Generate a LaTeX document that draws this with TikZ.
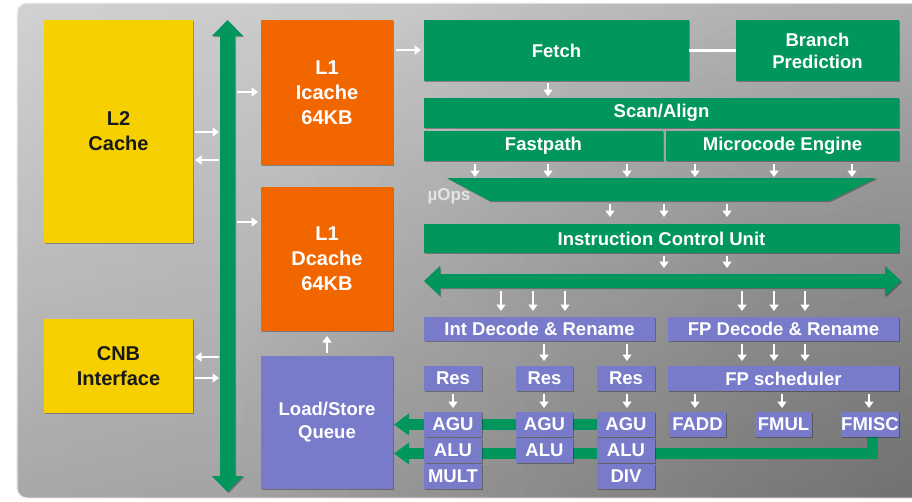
\documentclass[tikz,border=0pt]{standalone}
\usepackage{fontspec}
\setmainfont{Liberation Sans}
\usetikzlibrary{arrows.meta,shadows,calc,fadings}

\definecolor{amdgreen}{RGB}{0,150,92}
\definecolor{amdorange}{RGB}{242,102,0}
\definecolor{amdyellow}{RGB}{246,208,0}
\definecolor{amdpurple}{RGB}{120,122,202}
\definecolor{panelbase}{RGB}{210,210,210}
\definecolor{darktext}{RGB}{25,25,25}
\definecolor{uopstext}{RGB}{228,228,228}

% fadings used to darken the back panel towards the right and the bottom
\tikzfading[name=panelfadex, left color=transparent!100, right color=transparent!0]
\tikzfading[name=panelfadey, top color=transparent!100, bottom color=transparent!0]
\tikzfading[name=panelfader, inner color=transparent!0, outer color=transparent!100]

\pgfdeclarelayer{panel}
\pgfdeclarelayer{bands}
\pgfsetlayers{panel,bands,main}

\tikzset{
  blk/.style={inner sep=0pt, outer sep=0pt, text=white, align=center,
    font=\fontsize{18.5}{22}\selectfont\bfseries,
    drop shadow={shadow xshift=1.2pt, shadow yshift=-1.2pt, opacity=0.3, fill=black}},
  gblk/.style={blk, fill=amdgreen},
  oblk/.style={blk, fill=amdorange, font=\fontsize{20}{25}\selectfont\bfseries},
  yblk/.style={blk, fill=amdyellow, text=darktext, font=\fontsize{20}{25}\selectfont\bfseries},
  pblk/.style={blk, fill=amdpurple},
  warrow/.style={draw=white, line width=2.6pt, -{Triangle[width=9pt,length=6.5pt]}},
  band/.style={draw=amdgreen, line width=11pt, line join=miter,
    -{Triangle[width=21pt,length=15pt]}},
  shaft/.style={inner sep=0pt, outer sep=0pt},
  busfill/.style={fill=amdgreen,
    drop shadow={shadow xshift=1.2pt, shadow yshift=-1.2pt, opacity=0.3, fill=black}},
  panelpath/.style={rounded corners=10pt},
}

% block from its top-left to its bottom-right corner (y grows downwards)
\newcommand\blkat[7]{\node[#2, minimum width=#5-#3, minimum height=#6-#4,
  anchor=north west] (#1) at (#3,#4) {#7};}
% short white arrow going down at abscissa #4, from #2 to #3
\newcommand\vdn[4][]{\draw[warrow,#1] (#4,0 |- #2) -- (#4,0 |- #3);}
% short white arrow at ordinate #4, from #2 to #3
\newcommand\hrz[4][]{\draw[warrow,#1] (#2 |- 0,#4) -- (#3 |- 0,#4);}

\begin{document}
\begin{tikzpicture}[x=1pt,y=-1pt]
\useasboundingbox (0,0) rectangle (912,501);

% grey back panel
\begin{pgfonlayer}{panel}
  \fill[panelpath, panelbase] (17,3) rectangle (925,498);
  \fill[panelpath, black, path fading=panelfadex, fill opacity=0.10] (17,3) rectangle (925,498);
  \fill[panelpath, black, path fading=panelfadey, fill opacity=0.20] (17,3) rectangle (925,498);
  \begin{scope}
    \clip[panelpath] (17,3) rectangle (925,498);
    \fill[black, path fading=panelfader, fill opacity=0.25] (925,498) circle (700);
  \end{scope}
  \draw[panelpath, white!88!gray, line width=1pt] (17,3) rectangle (925,498);
\end{pgfonlayer}

% caches and interfaces
\blkat{l2}{yblk}{44}{20}{193}{243}{L2\\Cache}
\blkat{cnb}{yblk}{44}{319}{193}{413}{CNB\\Interface}
\blkat{icache}{oblk}{261}{20}{393}{165}{L1\\Icache\\64KB}
\blkat{dcache}{oblk}{261}{187}{393}{331}{L1\\Dcache\\64KB}
\blkat{lsq}{pblk, font=\fontsize{18.5}{23}\selectfont\bfseries}{261}{356}{393}{489}{Load/Store\\Queue}

% front end
\blkat{fetch}{gblk}{424}{20}{689}{81}{Fetch}
\blkat{bp}{gblk}{736}{20}{899}{81}{Branch\\Prediction}
\blkat{scan}{gblk}{424}{98}{899}{128}{Scan/Align}
\blkat{fast}{gblk}{424}{131}{663}{161}{Fastpath}
\blkat{micro}{gblk}{666}{131}{899}{161}{Microcode Engine}
\blkat{icu}{gblk}{424}{224}{899}{253}{Instruction Control Unit}

% micro-op funnel
\node[shaft, minimum width=429, minimum height=23, anchor=north west] (uops) at (447,178) {};
\fill[busfill] (uops.north west) -- (uops.north east)
  -- ($(uops.south east)+(-47,0)$) -- ($(uops.south west)+(43,0)$) -- cycle;
\node[font=\fontsize{17}{20}\selectfont\bfseries, text=uopstext] (uopslbl) at (449,196) {µOps};

% system bus (vertical) and dispatch bus (horizontal)
\node[shaft, minimum width=15, minimum height=440, anchor=north west] (vbus) at (220,36) {};
\fill[busfill] (227.5,20) -- (243,36) -- (235,36) -- (235,476) -- (243,476)
  -- (227.5,492) -- (212,476) -- (220,476) -- (220,36) -- (212,36) -- cycle;
\node[shaft, minimum width=445, minimum height=14, anchor=north west] (hbus) at (440,274) {};
\fill[busfill] (424,281) -- (440,266) -- (440,274) -- (885,274) -- (885,266)
  -- (901,281) -- (885,296) -- (885,288) -- (440,288) -- (440,296) -- cycle;

% execution back end
\blkat{intdec}{pblk}{424}{317}{655}{341}{Int Decode \& Rename}
\blkat{fpdec}{pblk}{668}{317}{899}{341}{FP Decode \& Rename}
\blkat{resA}{pblk}{424}{366}{482}{391}{Res}
\blkat{resB}{pblk}{516}{366}{573}{391}{Res}
\blkat{resC}{pblk}{597}{366}{655}{391}{Res}
\blkat{fpsch}{pblk}{668}{366}{899}{391}{FP scheduler}
\blkat{aguA}{pblk}{424}{412}{482}{437}{AGU}
\blkat{aluA}{pblk}{424}{438}{482}{463}{ALU}
\blkat{mult}{pblk}{424}{464}{482}{489}{MULT}
\blkat{aguB}{pblk}{516}{412}{573}{437}{AGU}
\blkat{aluB}{pblk}{516}{438}{573}{463}{ALU}
\blkat{aguC}{pblk}{597}{412}{655}{437}{AGU}
\blkat{aluC}{pblk}{597}{438}{655}{463}{ALU}
\blkat{div}{pblk}{597}{464}{655}{489}{DIV}
\blkat{fadd}{pblk}{669}{412}{726}{437}{FADD}
\blkat{fmul}{pblk}{755}{412}{812}{437}{FMUL}
\blkat{fmisc}{pblk}{841}{412}{899}{437}{FMISC}

% result buses back to the load/store queue
\begin{pgfonlayer}{bands}
  \draw[band, shorten >=1pt] (aguC.center |- 0,424.5) -- (lsq.east |- 0,424.5);
  \draw[band, shorten >=1pt] (872,0 |- fmisc.center) -- (872,453.5) -- (lsq.east |- 0,453.5);
\end{pgfonlayer}

% links around the caches
\hrz[shorten <=2pt, shorten >=1pt]{l2.east}{vbus.west}{132}
\hrz[shorten <=1pt, shorten >=2pt]{vbus.west}{l2.east}{160}
\hrz[shorten <=2pt, shorten >=3pt]{vbus.east}{icache.west}{92}
\hrz[shorten <=2pt, shorten >=3pt]{vbus.east}{dcache.west}{222}
\hrz[shorten <=1pt, shorten >=2pt]{vbus.west}{cnb.east}{357}
\hrz[shorten <=2pt, shorten >=1pt]{cnb.east}{vbus.west}{378}
\draw[warrow, shorten <=3pt, shorten >=5pt] (lsq.north) -- (lsq.north |- dcache.south);
\hrz[shorten <=3pt, shorten >=3pt]{icache.east}{fetch.west}{50}
\draw[white, line width=3pt] (fetch.east) -- (bp.west);

% front-end flow
\vdn[shorten <=2pt, shorten >=2pt]{fetch.south}{scan.north}{548}
\foreach \x in {475,548,627} {\vdn[shorten <=3pt, shorten >=1pt]{fast.south}{uops.north}{\x}}
\foreach \x in {695,774,852} {\vdn[shorten <=3pt, shorten >=1pt]{micro.south}{uops.north}{\x}}
\foreach \x in {610,664,727} {\vdn[shorten <=3pt, shorten >=7pt]{uops.south}{icu.north}{\x}}
\foreach \x in {664,727} {\vdn[shorten <=3pt, shorten >=6pt]{icu.south}{hbus.north}{\x}}

% dispatch into the integer and floating-point clusters
\foreach \x in {501,533,565} {\vdn[shorten <=3pt, shorten >=6pt]{hbus.south}{intdec.north}{\x}}
\foreach \x in {742,774,805} {\vdn[shorten <=3pt, shorten >=6pt]{hbus.south}{fpdec.north}{\x}}
\vdn[shorten <=3pt, shorten >=5pt]{intdec.south}{resB.north}{544}
\vdn[shorten <=3pt, shorten >=5pt]{intdec.south}{resC.north}{627}
\foreach \x in {742,774,805} {\vdn[shorten <=3pt, shorten >=5pt]{fpdec.south}{fpsch.north}{\x}}
\vdn[shorten <=3pt, shorten >=4pt]{resA.south}{aguA.north}{453}
\vdn[shorten <=3pt, shorten >=4pt]{resB.south}{aguB.north}{544}
\vdn[shorten <=3pt, shorten >=4pt]{resC.south}{aguC.north}{627}
\vdn[shorten <=3pt, shorten >=4pt]{fpsch.south}{fadd.north}{695}
\vdn[shorten <=3pt, shorten >=4pt]{fpsch.south}{fmul.north}{782}
\vdn[shorten <=3pt, shorten >=4pt]{fpsch.south}{fmisc.north}{869}
\end{tikzpicture}
\end{document}
